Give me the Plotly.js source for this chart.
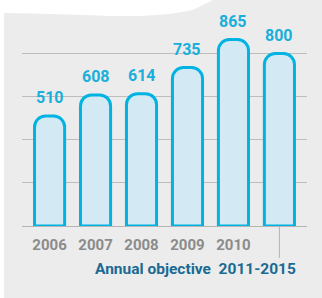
<!DOCTYPE html>
<html>
<head>
<meta charset="utf-8">
<script src="https://cdn.plot.ly/plotly-3.0.1.min.js"></script>
<style>html,body{margin:0;padding:0;background:#fff;}#chart{width:322px;height:298px;}</style>
</head>
<body>
<div id="chart"></div>
<script>
const categories = ["2006", "2007", "2008", "2009", "2010", "2011-2015"];
const values = [510, 608, 614, 735, 865, 800];
const tickLabels = ["2006", "2007", "2008", "2009", "2010", ""];
const valueLabels = ["510", "608", "614", "735", "865", "800"];
const objectiveLabel = "Annual objective  2011-2015";

const W = 322, H = 298;
const M = {l: 22, r: 15, t: 32, b: 72};
const PW = W - M.l - M.r, PH = H - M.t - M.b;
const px = x => (x - M.l) / PW;
const py = y => (H - M.b - y) / PH;

const panelPts = [
  ['M', 4, 13], ['Q', 60, 14, 110, 16], ['Q', 170, 17, 195, 9], ['Q', 205, 4, 213, 0],
  ['L', 322, 0], ['L', 322, 298], ['L', 4, 298]
];
let panelPath = '';
panelPts.forEach(p => {
  panelPath += p[0];
  const c = [];
  for (let i = 1; i < p.length; i += 2) c.push(px(p[i]) + ',' + py(p[i + 1]));
  panelPath += c.join(' ') + ' ';
});
panelPath += 'Z';

const idx = categories.map((c, i) => i);

const trace = {
  type: 'bar',
  x: idx,
  y: values,
  width: 0.655,
  marker: {color: '#d3e9f3', line: {color: '#00b3e2', width: 3}, cornerradius: 11},
  hoverinfo: 'skip'
};

const annotations = idx.map(i => ({
  x: i, y: values[i], xref: 'x', yref: 'y',
  text: valueLabels[i], showarrow: false,
  yanchor: 'bottom', yshift: 7,
  font: {family: 'Roboto', size: 16, color: '#19afdb', weight: 700}
}));
annotations.push({
  x: px(298), y: py(269), xref: 'paper', yref: 'paper',
  xanchor: 'right', yanchor: 'middle', showarrow: false,
  text: objectiveLabel,
  font: {family: 'Roboto', size: 15.5, color: '#1a6a92', weight: 700}
});

const layout = {
  width: W, height: H,
  margin: M,
  paper_bgcolor: '#ffffff',
  plot_bgcolor: 'rgba(0,0,0,0)',
  showlegend: false,
  xaxis: {
    range: [-0.6, 5.6],
    tickvals: idx, ticktext: tickLabels,
    ticks: 'outside', ticklen: 5, tickcolor: 'rgba(0,0,0,0)',
    tickfont: {family: 'Roboto', size: 15, color: '#8b8b8b', weight: 700},
    showgrid: false, zeroline: false,
    showline: true, linecolor: '#b5b5b5', linewidth: 1,
    fixedrange: true
  },
  yaxis: {
    range: [0, 900],
    tickvals: [200, 400, 600, 800],
    showticklabels: false,
    showgrid: true, gridcolor: '#bdbdbd', gridwidth: 1,
    zeroline: false, showline: false,
    fixedrange: true
  },
  shapes: [
    {type: 'path', path: panelPath, xref: 'paper', yref: 'paper', fillcolor: '#ececec', line: {width: 0}, layer: 'below'},
    {type: 'line', xref: 'x', yref: 'paper', x0: 5, x1: 5, y0: 0, y1: py(258), line: {color: '#b5b5b5', width: 1}}
  ],
  annotations: annotations
};

Plotly.newPlot('chart', [trace], layout, {staticPlot: true, displayModeBar: false});
</script>
</body>
</html>
